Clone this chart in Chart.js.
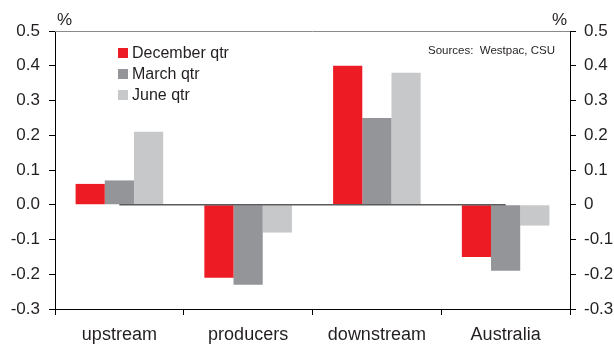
<!DOCTYPE html>
<html>
<head>
<meta charset="utf-8">
<script src="https://cdn.jsdelivr.net/npm/chart.js@4/dist/chart.umd.min.js"></script>
<style>
  html, body { margin: 0; padding: 0; background: #fff; }
  #wrap { width: 614px; height: 347px; position: relative; }
</style>
</head>
<body>
<div id="wrap"><canvas id="c" width="614" height="347"></canvas></div>
<script>
// Quarterly change by stage of production, %
const categories = ['upstream', 'producers', 'downstream', 'Australia'];
const decemberQtr = [0.06, -0.21, 0.40, -0.15];
const marchQtr = [0.07, -0.23, 0.25, -0.19];
const juneQtr = [0.21, -0.08, 0.38, -0.06];
const zeroLine = [0, 0, 0, 0];
const seriesLabels = ['December qtr', 'March qtr', 'June qtr'];
const seriesColours = ['#ED1C24', '#939598', '#C7C8CA'];
const yMin = -0.3, yMax = 0.5, yStep = 0.1;
const sourceNote = 'Sources:  Westpac, CSU';

const FONT = '"Liberation Sans", Arial, sans-serif';
const INK = '#231F20';

// Frame line, unit labels, source note and the in-plot legend
const decorations = {
  id: 'decorations',
  afterDraw(chart) {
    const { ctx, chartArea } = chart;
    ctx.save();
    // top frame
    ctx.strokeStyle = '#8a8a8a';
    ctx.lineWidth = 1;
    ctx.beginPath();
    ctx.moveTo(chartArea.left, chartArea.top + 0.5);
    ctx.lineTo(chartArea.right, chartArea.top + 0.5);
    ctx.stroke();

    ctx.fillStyle = INK;
    ctx.font = '17px ' + FONT;
    ctx.textBaseline = 'middle';
    ctx.textAlign = 'left';
    ctx.fillText('%', 57, 20);
    ctx.textAlign = 'right';
    ctx.fillText('%', 567, 20);

    ctx.font = '11.5px ' + FONT;
    ctx.textAlign = 'left';
    ctx.fillText(sourceNote, 428, 51);

    // legend
    ctx.font = '16px ' + FONT;
    chart.data.datasets.slice(0, 3).forEach((ds, i) => {
      const y = 53 + i * 21;
      ctx.fillStyle = ds.backgroundColor;
      ctx.fillRect(118, y - 5, 10, 10);
      ctx.fillStyle = INK;
      ctx.fillText(ds.label, 132, y + 1);
    });
    ctx.restore();
  }
};

new Chart(document.getElementById('c'), {
  data: {
    labels: categories,
    datasets: [
      { type: 'bar', label: seriesLabels[0], data: decemberQtr, backgroundColor: seriesColours[0], order: 2 },
      { type: 'bar', label: seriesLabels[1], data: marchQtr, backgroundColor: seriesColours[1], order: 2 },
      { type: 'bar', label: seriesLabels[2], data: juneQtr, backgroundColor: seriesColours[2], order: 2 },
      { type: 'line', label: 'zero', data: zeroLine, borderColor: '#5a5a5a', borderWidth: 1.5,
        pointRadius: 0, fill: false, order: 1 }
    ]
  },
  options: {
    responsive: false,
    animation: false,
    layout: { padding: { top: 31, left: 0, right: 0, bottom: 0 } },
    datasets: { bar: { categoryPercentage: 0.68, barPercentage: 1.0 } },
    plugins: { legend: { display: false }, tooltip: { enabled: false } },
    scales: {
      x: {
        grid: { display: true, drawOnChartArea: false, offset: true, tickLength: 6, color: '#000', lineWidth: 1 },
        border: { color: '#000', width: 1 },
        ticks: { color: INK, font: { family: FONT, size: 18 }, padding: 9, maxRotation: 0 },
        afterFit(s) { s.height = 38; }
      },
      y: {
        position: 'left',
        min: yMin, max: yMax,
        grid: { drawOnChartArea: false, tickLength: 6, color: '#000' },
        border: { color: '#000', width: 1 },
        ticks: {
          stepSize: yStep, color: INK, font: { family: FONT, size: 17 }, padding: 9,
          callback: v => v.toFixed(1)
        },
        afterFit(s) { s.width = 55; }
      },
      y2: {
        position: 'right',
        min: yMin, max: yMax,
        grid: { drawOnChartArea: false, tickLength: 6, color: '#000' },
        border: { color: '#000', width: 1 },
        ticks: {
          stepSize: yStep, color: INK, font: { family: FONT, size: 17 }, padding: 8,
          callback: v => Math.abs(v) < 1e-9 ? '0' : v.toFixed(1)
        },
        afterFit(s) { s.width = 44; }
      }
    }
  },
  plugins: [decorations]
});
</script>
</body>
</html>
